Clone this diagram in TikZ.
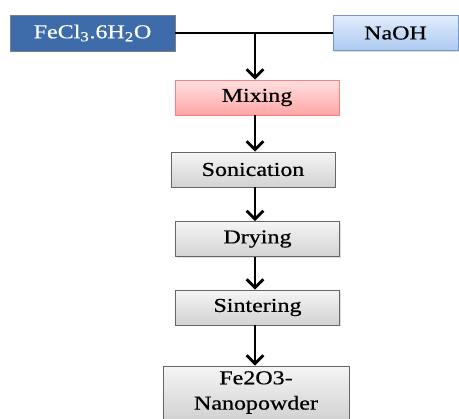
\documentclass[tikz,border=0pt]{standalone}
\usepackage{fontspec}
\setmainfont{Liberation Serif}
\newfontfamily\boxfont[FakeStretch=1.22,FakeBold=0.6]{Liberation Serif}
\usetikzlibrary{shadows,arrows.meta}

\begin{document}
\begin{tikzpicture}
    [every node/.style={rectangle,draw,minimum height=0.875cm,inner sep=0pt,font=\boxfont\fontsize{14}{17}\selectfont,
      drop shadow={opacity=0.25,shadow xshift=1pt,shadow yshift=-1pt}},
     step box/.style={draw=black!60,top color=gray!8,bottom color=gray!35,minimum width=4.1cm},
     flow/.style={-{Straight Barb[length=6pt,width=12pt]},line width=2pt}]
    \useasboundingbox (0,0) rectangle (11.475,-10.475);

    \node[fill={rgb,255:red,62;green,108;blue,170},draw=black!50,text=white,minimum width=4.125cm,minimum height=0.9cm] (fecl) at (2.3125,-0.825) {FeCl\textsubscript{3}.6H\textsubscript{2}O};
    \node[top color={rgb,255:red,225;green,236;blue,252},bottom color={rgb,255:red,172;green,202;blue,240},draw={rgb,255:red,120;green,150;blue,200},minimum width=3.125cm] (naoh) at (9.8875,-0.825) {NaOH};

    \node[top color=red!12,bottom color=red!35,draw=red!50,minimum width=4.1cm] (mix) at (6.425,-2.4375) {Mixing};
    \node[step box] (son) at (6.325,-4.2375) {Sonication};
    \node[step box] (dry) at (6.4375,-5.975) {Drying};
    \node[step box] (sint) at (6.4375,-7.6875) {Sintering};
    \node[step box,minimum width=4.65cm,minimum height=1.325cm,align=center] (prod) at (6.4,-9.8125) {Fe2O3-\\[1pt]Nanopowder};

    \coordinate (j) at (6.375,-0.825);
    \draw [line width=0.8pt] (fecl) -- (naoh);
    \draw [flow] (j) -- (j |- mix.north);
    \draw [flow] (j |- mix.south) -- (j |- son.north);
    \draw [flow] (j |- son.south) -- (j |- dry.north);
    \draw [flow] (j |- dry.south) -- (j |- sint.north);
    \draw [flow] (j |- sint.south) -- (j |- prod.north);
  \end{tikzpicture}
\end{document}
